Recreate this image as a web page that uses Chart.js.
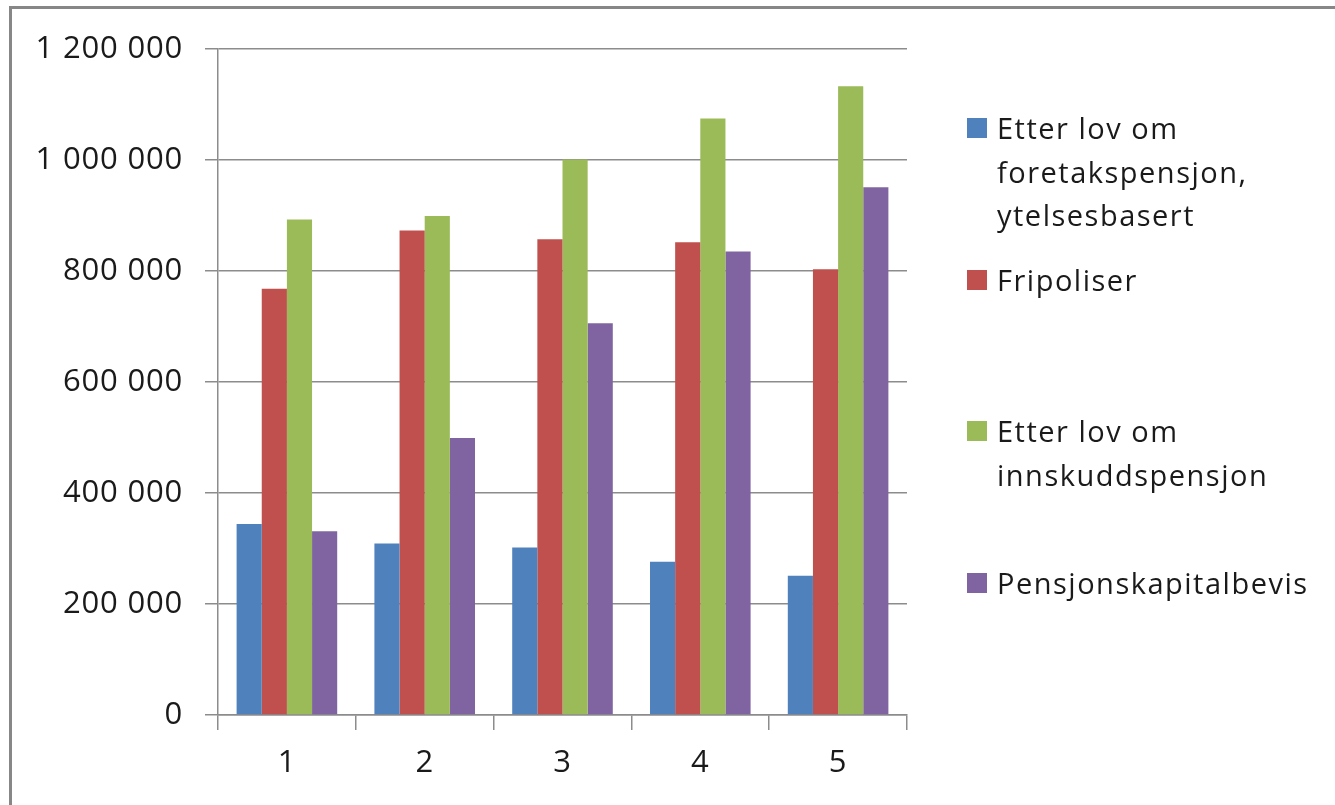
<!DOCTYPE html>
<html><head><meta charset="utf-8">
<script src="https://cdn.jsdelivr.net/npm/chart.js@4/dist/chart.umd.min.js"></script>
<style>
html,body{margin:0;padding:0;background:#fff;}
#wrap{position:relative;width:1335px;height:805px;overflow:hidden;background:#fff;}
#frame{position:absolute;left:9px;top:6px;width:1400px;height:900px;border:3px solid #878787;box-sizing:border-box;}
#c{position:absolute;left:0;top:0;}
#legend{position:absolute;left:0;top:0;font-family:"Open Sans";font-size:29px;letter-spacing:1.5px;color:#1a1a1a;}
.item{position:absolute;left:967px;}
.sw{position:absolute;left:0;width:20px;height:20px;}
.tx{position:absolute;left:30px;white-space:nowrap;line-height:43.5px;}
</style></head>
<body>
<div id="wrap">
  <div id="frame"></div>
  <canvas id="c" width="1335" height="805"></canvas>
  <div id="legend"></div>
</div>
<script>
const categories = ['1', '2', '3', '4', '5'];
const seriesNames = [
  ['Etter lov om', 'foretakspensjon,', 'ytelsesbasert'],
  ['Fripoliser'],
  ['Etter lov om', 'innskuddspensjon'],
  ['Pensjonskapitalbevis']
];
const etterLovForetak = [344000, 309000, 302000, 276000, 251000];
const fripoliser = [768000, 873000, 857000, 852000, 803000];
const etterLovInnskudd = [893000, 899000, 1001000, 1075000, 1133000];
const pensjonskapitalbevis = [331000, 499000, 706000, 835000, 951000];
const yTicks = [0, 200000, 400000, 600000, 800000, 1000000, 1200000];

const colors = ['#4F81BD', '#C0504D', '#9BBB59', '#8064A2'];
const values = [etterLovForetak, fripoliser, etterLovInnskudd, pensjonskapitalbevis];
const gridColor = '#8c8c8c';

function fmt(v) {
  return String(v).replace(/\B(?=(\d{3})+(?!\d))/g, ' ');
}

const spacingPlugin = {
  id: 'spacing',
  beforeDraw(chart) { chart.ctx.letterSpacing = '0.8px'; }
};

const chart = new Chart(document.getElementById('c'), {
  type: 'bar',
  data: {
    labels: categories,
    datasets: values.map((d, i) => ({
      label: seriesNames[i].join(' '),
      data: d,
      backgroundColor: colors[i],
      borderWidth: 0,
      categoryPercentage: 0.73,
      barPercentage: 1.0
    }))
  },
  plugins: [spacingPlugin],
  options: {
    responsive: false,
    animation: false,
    devicePixelRatio: 1,
    layout: { padding: { top: 49, right: 428, left: 0, bottom: 0 } },
    plugins: { legend: { display: false }, tooltip: { enabled: false } },
    scales: {
      x: {
        afterFit: s => { s.height = 90; },
        grid: { display: true, drawOnChartArea: false, drawTicks: true, tickLength: 15, offset: true, color: gridColor, lineWidth: 1.5 },
        border: { display: true, color: gridColor, width: 1.5 },
        ticks: { color: '#1a1a1a', font: { family: 'Open Sans', size: 31 }, padding: 15 }
      },
      y: {
        min: 0, max: 1200000,
        afterFit: s => { s.width = 218; },
        afterBuildTicks: s => { s.ticks = yTicks.map(v => ({ value: v })); },
        grid: { color: gridColor, lineWidth: 1.5, tickLength: 13, drawTicks: true },
        border: { display: true, color: gridColor, width: 1.5 },
        ticks: { color: '#1a1a1a', font: { family: 'Open Sans', size: 31 }, padding: 22, callback: v => fmt(v) }
      }
    }
  }
});

// HTML legend built from series names and colors
const legendTops = [118, 270, 421, 573];
const leg = document.getElementById('legend');
seriesNames.forEach((lines, i) => {
  const it = document.createElement('div');
  it.className = 'item';
  it.style.top = legendTops[i] + 'px';
  const sw = document.createElement('div');
  sw.className = 'sw';
  sw.style.background = colors[i];
  const tx = document.createElement('div');
  tx.className = 'tx';
  tx.style.top = '-12px';
  tx.innerHTML = lines.join('<br>');
  it.appendChild(sw); it.appendChild(tx);
  leg.appendChild(it);
});
</script>
</body></html>
